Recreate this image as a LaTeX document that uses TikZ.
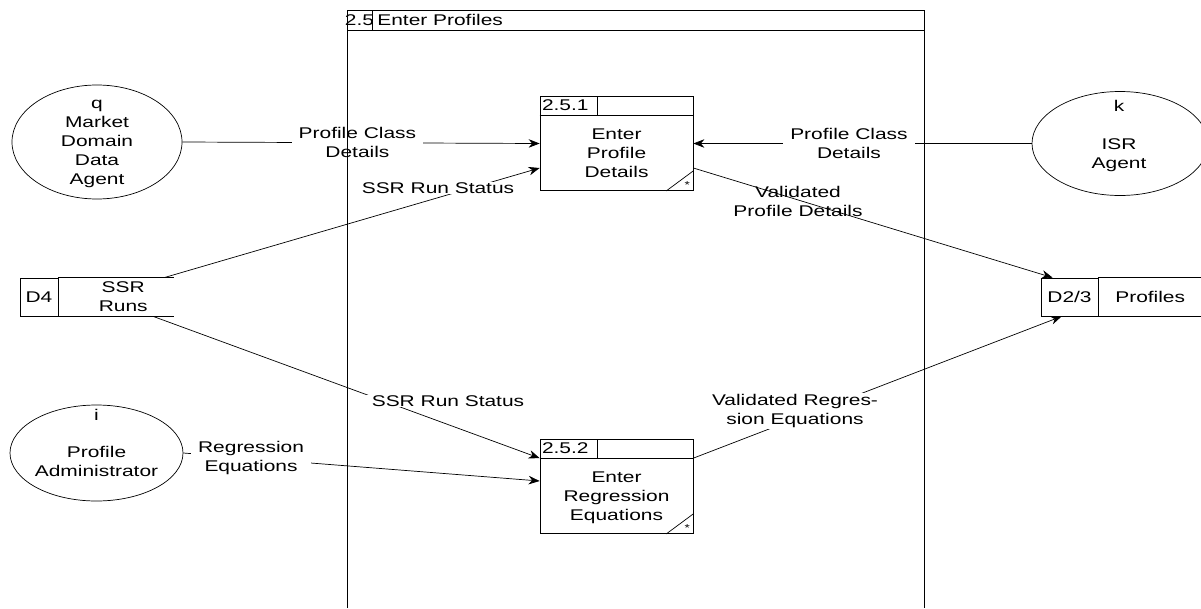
\documentclass[tikz,border=0pt]{standalone}
\usepackage{fontspec}
\setmainfont{Liberation Sans}[FakeStretch=1.35]
\usetikzlibrary{calc,positioning,shapes.geometric,arrows.meta}

\begin{document}
\begin{tikzpicture}[x=1pt, y=-1pt, line width=.7pt,
    every node/.style={font=\fontsize{15.5}{19}\selectfont, inner sep=0pt},
    entity/.style={draw, ellipse, inner sep=0pt},
    proc/.style={draw, minimum width=153pt, minimum height=94pt},
    idbox/.style={draw, minimum height=38pt},
    txt/.style={align=center},
    lbl/.style={align=center, fill=white, inner xsep=7pt, inner ysep=1pt},
    flow/.style={-{Stealth[length=11pt,width=8.5pt,inset=3.5pt]}}]
    \useasboundingbox (0,0) rectangle (1201,608);
    \node[proc] (p1) at (616.5,143.5) {};
    \node[proc] (p2) at (616.5,486.5) {};
    \foreach \p/\n in {p1/2.5.1, p2/2.5.2} {
        \draw ([yshift=-19pt]\p.north west) -- ([yshift=-19pt]\p.north east);
        \draw ([xshift=58pt]\p.north west) -- ([xshift=58pt,yshift=-19pt]\p.north west);
        \node[anchor=west] (\p-num) at ([xshift=2pt,yshift=-9.5pt]\p.north west) {\n};
        \draw ([xshift=-27pt]\p.south east) -- ([yshift=20pt]\p.south east);
        \node[font=\fontsize{10}{10}\selectfont] (\p-star) at ([xshift=-6pt,yshift=6pt]\p.south east) {*};
    }
    \node[txt] (p1-txt) at ([yshift=-9.5pt]p1.center) {Enter\\Profile\\Details};
    \node[txt] (p2-txt) at ([yshift=-11pt]p2.center) {Enter\\Regression\\Equations};
    \node[entity, minimum width=170pt, minimum height=114pt] (q) at (97,142) {};
    \node[txt] (q-txt) at (97,144) {q\\Market\\Domain\\Data\\Agent};
    \node[entity, minimum width=176pt, minimum height=104pt] (k) at (1120,143.5) {};
    \node[txt] (k-txt) at (1119,136) {k\\[19pt]ISR\\Agent};
    \node[entity, minimum width=173pt, minimum height=96pt] (i) at (96.5,453) {};
    \node[txt] (i-txt) at (96.5,443) {i\\[18pt]Profile\\Administrator};
    \node[idbox, minimum width=38pt] (d4id) at (39,297) {D4};
    \node[minimum width=115pt, minimum height=38pt, right=0pt of d4id] (d4) {};
    \node[txt] (d4-txt) at ([xshift=7pt]d4.center) {SSR\\Runs};
    \draw (d4.north west) -- (d4.north east) (d4.south west) -- (d4.south east);
    \node[idbox, minimum width=57pt] (d23id) at (1069.5,297) {D2/3};
    \node[minimum width=103pt, minimum height=38pt, right=0pt of d23id] (d23) {Profiles};
    \draw (d23.north west) -- (d23.north east) (d23.south west) -- (d23.south east);
    \draw[flow] (q.east) -- node[lbl, pos=.49] (l-pcd1) {Profile Class\\Details} (p1.west);
    \draw[flow] (k.west) -- node[lbl, pos=.54] (l-pcd2) {Profile Class\\Details} (p1.east);
    \draw[flow] ([xshift=-10pt]d4.north east) -- ([yshift=-24.5pt]p1.west);
    \node[lbl] (l-ssr1) at (438,188) {SSR Run Status};
    \draw[flow] ([xshift=-21pt]d4.south east) -- ([yshift=-19pt]p2.north west);
    \node[lbl] (l-ssr2) at (448,401) {SSR Run Status};
    \draw[flow] (i.east) -- node[lbl, pos=.19] (l-reg) {Regression\\Equations} ([yshift=5.5pt]p2.west);
    \draw[flow] ([yshift=-24.5pt]p1.east) -- ([xshift=12pt]d23id.north west);
    \node[txt] (l-vpd) at (798,201) {Validated\\Profile Details};
    \draw[flow] ([yshift=-19pt]p2.north east) -- ([xshift=21pt]d23id.south west);
    \node[lbl] (l-vre) at (795,411) {Validated Regres-\\sion Equations};
    \draw (347,608) -- (347,10) -- (924,10) -- (924,608) (347,30) -- (924,30) (372,10) -- (372,30);
    \node (ctx-num) at (359.5,20) {2.5};
    \node[anchor=west] (ctx-name) at (377,20) {Enter Profiles};
\end{tikzpicture}
\end{document}
